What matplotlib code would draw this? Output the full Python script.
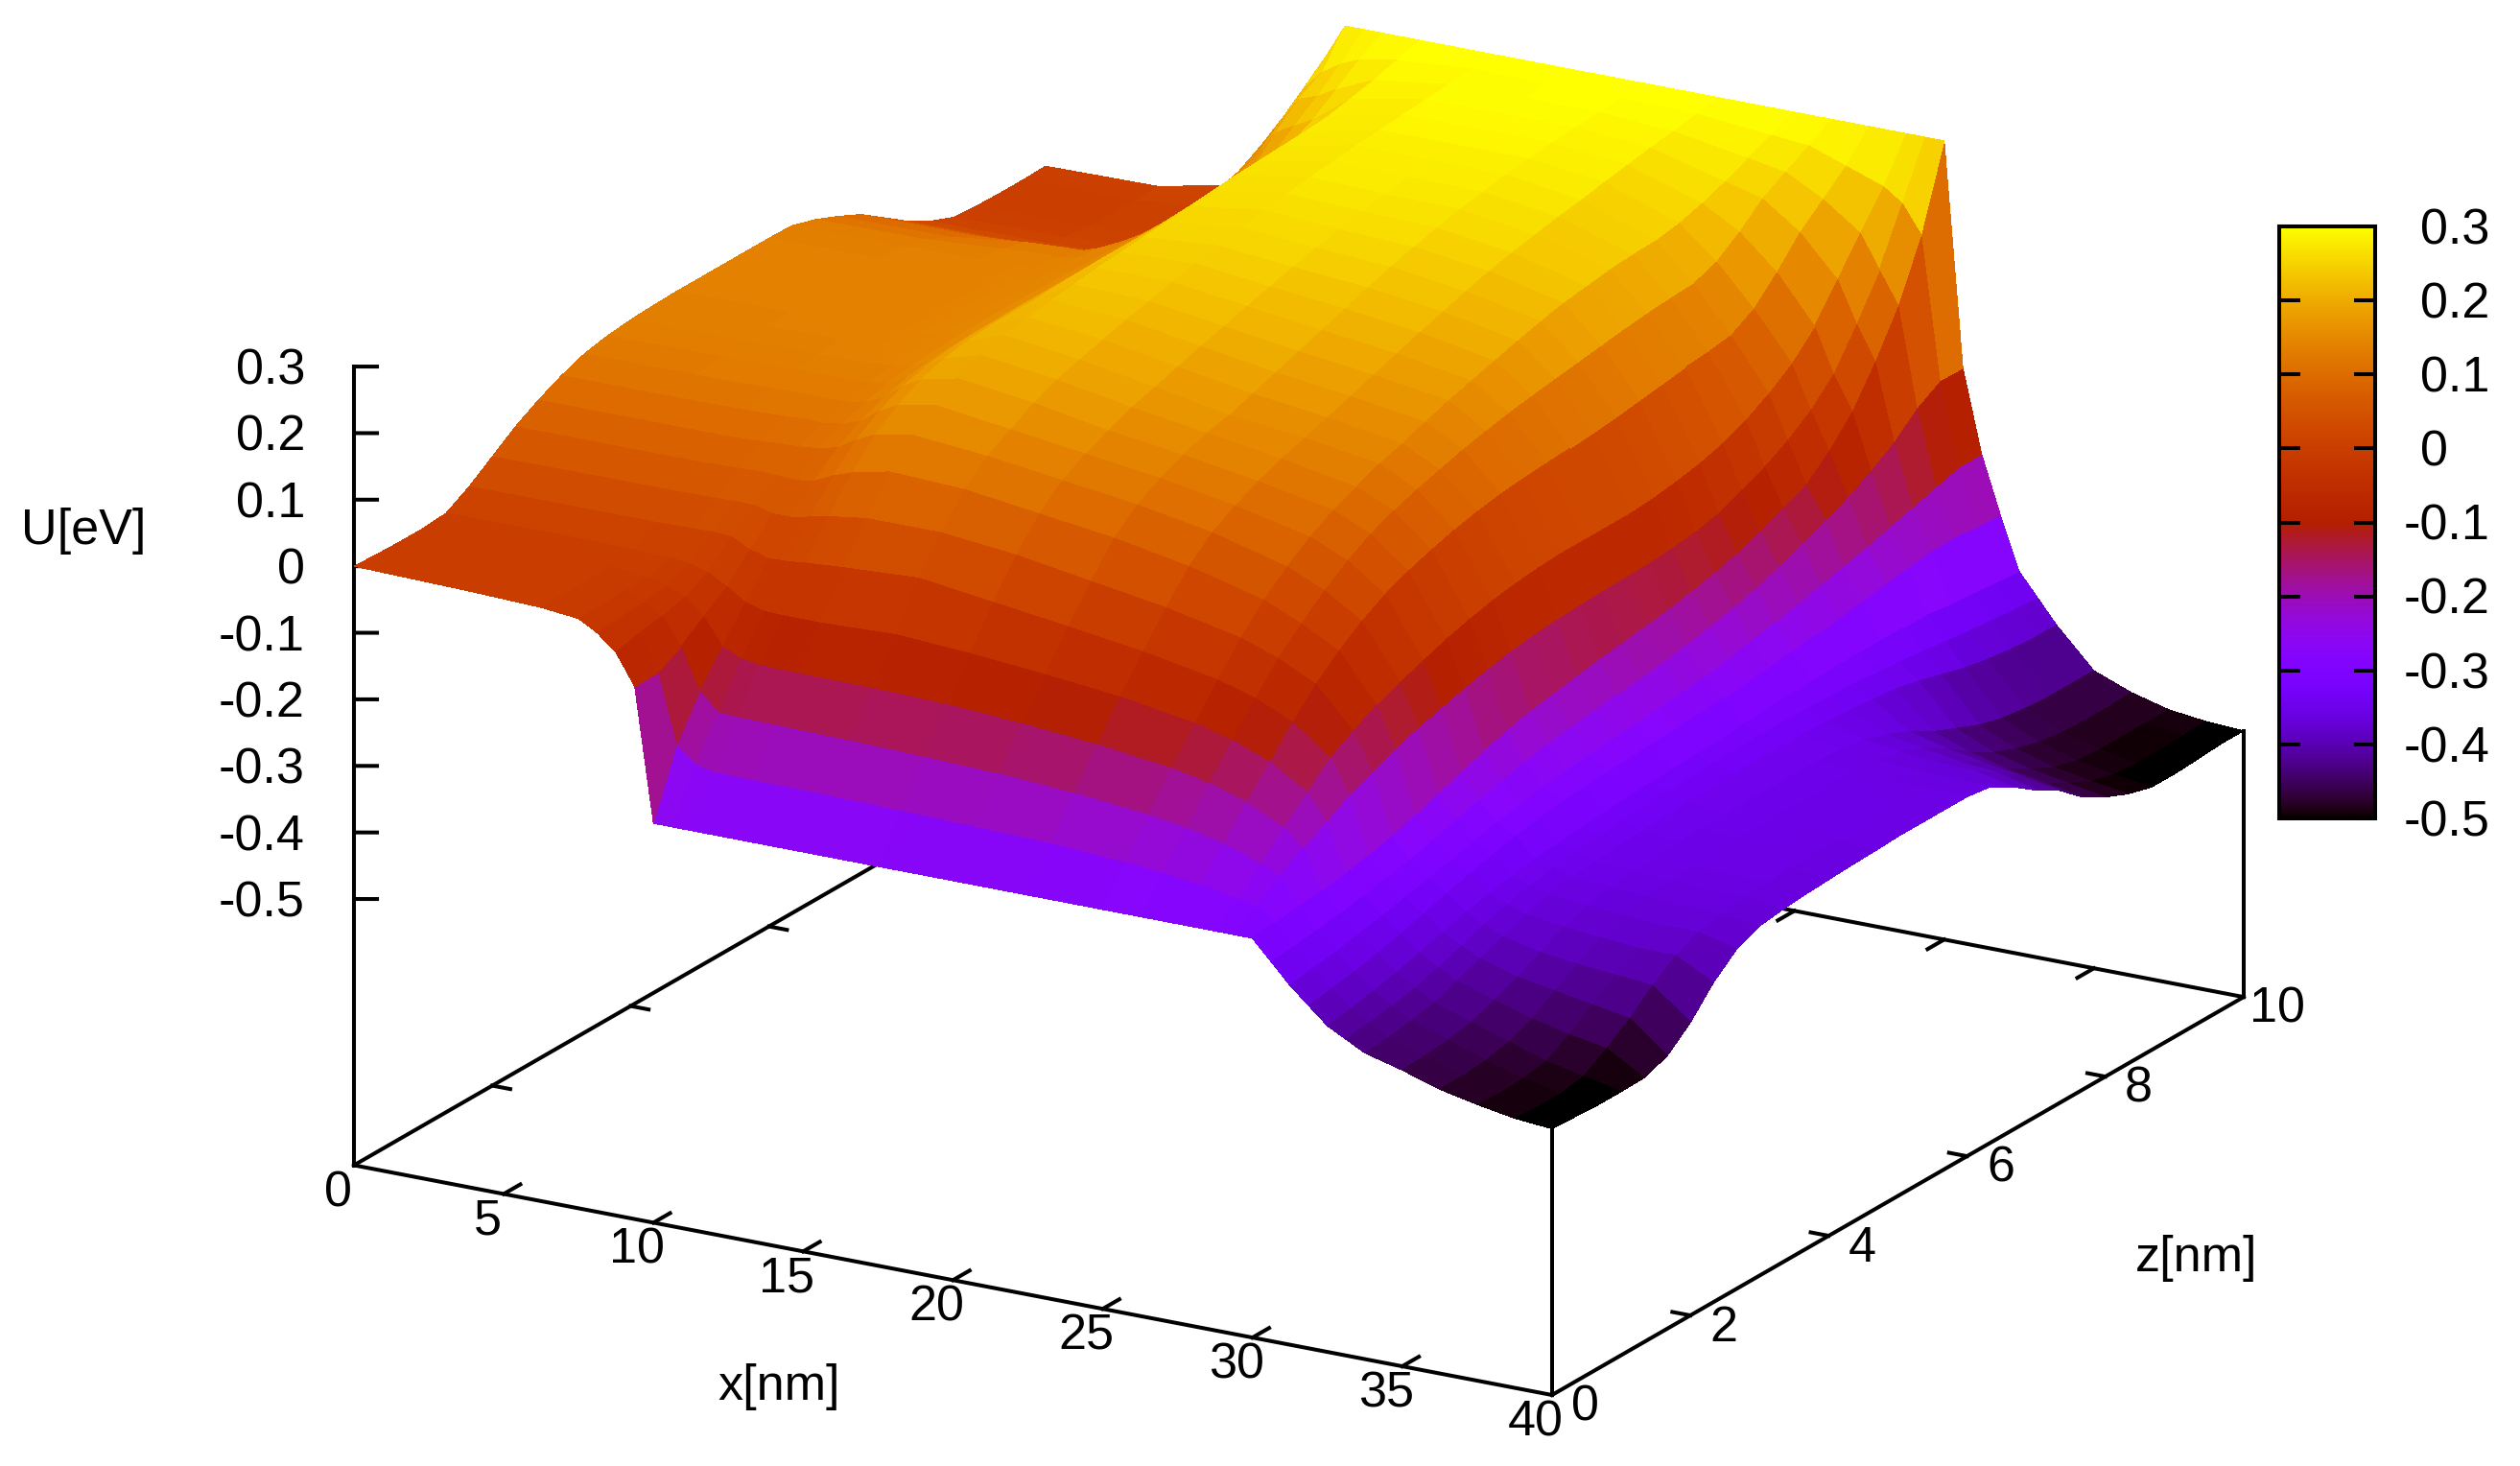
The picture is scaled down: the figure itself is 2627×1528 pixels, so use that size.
import numpy as np
import matplotlib
matplotlib.use("Agg")
import matplotlib.pyplot as plt
from matplotlib.colors import ListedColormap
from matplotlib.transforms import blended_transform_factory
from mpl_toolkits.mplot3d import proj3d

plt.rcParams['font.family'] = ['Liberation Sans', 'DejaVu Sans']

x_nm = [0, 3.75, 6.25, 7.5, 8.125, 8.75, 9.375, 10, 10.625, 11.25, 12.5, 15, 17.5, 20, 22.5, 25, 26.25, 27.5,
        28.75, 29.375, 30, 30.625, 31.25, 31.875, 32.5, 33.125, 33.75, 35, 36.25, 37.5, 38.75, 40]
z_nm = [0, .3333, .6667, 1, 1.3333, 1.6667, 2, 2.3333, 2.6667, 3, 3.3333, 3.6667, 4, 4.3333, 4.6667, 5,
        5.3333, 5.6667, 6, 6.3333, 6.6667, 7, 7.3333, 7.6667, 8, 8.3333, 8.6667, 9, 9.3333, 9.6667, 10]

# U[eV] along z, one list per x station
u_x00 = [0,-.002,-.003,-.003,0,.02,.045,.07,.09,.107,.12,.127,.131,.133,.134,.134,.134,.134,.134,.133,.122,.107,.09,.065,.04,.02,.006,.003,.002,.002,.003]
u_x01 = [-.004,-.004,-.004,-.003,0,.02,.046,.07,.09,.107,.12,.128,.132,.134,.135,.135,.135,.135,.135,.134,.124,.108,.09,.065,.04,.02,.008,.004,.003,.003,.005]
u_x02 = [-.008,-.008,-.008,-.006,-.001,.02,.046,.07,.09,.108,.122,.13,.133,.135,.136,.136,.136,.136,.136,.136,.132,.122,.097,.07,.045,.025,.015,.012,.012,.016,.028]
u_x03 = [-.014,-.014,-.013,-.012,-.003,.021,.047,.072,.092,.11,.123,.13,.134,.136,.138,.138,.138,.138,.138,.138,.136,.125,.1,.075,.055,.04,.04,.045,.055,.07,.095]
u_x04 = [-.03,-.028,-.025,-.02,-.006,.022,.048,.073,.094,.112,.122,.13,.135,.138,.14,.14,.14,.14,.14,.139,.135,.125,.105,.09,.08,.075,.08,.09,.105,.125,.146]
u_x05 = [-.054,-.045,-.04,-.031,-.014,.02,.047,.072,.095,.11,.123,.132,.138,.14,.142,.142,.142,.142,.142,.141,.14,.135,.125,.118,.115,.115,.12,.13,.15,.175,.2]
u_x06 = [-.10,-.099,-.08,-.055,-.03,.006,.04,.07,.098,.115,.128,.137,.142,.145,.147,.148,.148,.148,.147,.146,.145,.143,.141,.14,.14,.14,.145,.16,.19,.22,.25]
u_x07 = [-.30,-.203,-.142,-.095,-.048,-.002,.04,.075,.105,.125,.14,.15,.155,.158,.16,.16,.16,.16,.16,.16,.16,.16,.16,.16,.16,.16,.166,.2,.23,.25,.30]
u_x08 = [-.30,-.227,-.168,-.108,-.056,-.001,.046,.088,.122,.145,.163,.172,.178,.18,.181,.182,.182,.182,.182,.182,.182,.182,.182,.182,.182,.184,.19,.215,.24,.268,.30]
u_x09 = [-.30,-.233,-.17,-.112,-.057,.002,.052,.098,.135,.16,.178,.19,.196,.199,.2,.2,.202,.203,.204,.204,.204,.204,.204,.204,.204,.206,.212,.23,.255,.28,.3]
u_x10 = [-.30,-.234,-.171,-.113,-.057,.006,.06,.11,.145,.17,.19,.205,.215,.222,.228,.232,.237,.24,.243,.246,.25,.253,.256,.258,.26,.262,.265,.272,.28,.29,.3]
u_x11 = [-.30,-.235,-.173,-.114,-.053,.012,.06,.105,.135,.155,.175,.19,.2,.21,.22,.228,.237,.245,.252,.259,.265,.27,.275,.279,.283,.286,.289,.292,.295,.298,.3]
u_x12 = [-.30,-.237,-.176,-.117,-.06,-.003,.048,.09,.12,.14,.155,.17,.18,.191,.202,.212,.222,.232,.241,.25,.258,.265,.271,.277,.282,.286,.29,.293,.296,.298,.3]
u_x13 = [-.30,-.24,-.18,-.124,-.07,-.018,.03,.075,.105,.125,.14,.153,.16,.172,.184,.196,.208,.22,.232,.243,.253,.262,.27,.276,.282,.286,.29,.293,.296,.298,.3]
u_x14 = [-.30,-.243,-.187,-.134,-.082,-.034,.012,.054,.085,.105,.122,.136,.147,.158,.17,.182,.194,.206,.217,.228,.238,.246,.253,.26,.265,.272,.278,.284,.289,.295,.3]
u_x15 = [-.30,-.25,-.198,-.148,-.1,-.055,-.012,.025,.055,.08,.1,.115,.13,.14,.153,.165,.175,.185,.195,.204,.212,.217,.222,.225,.226,.232,.242,.255,.27,.285,.3]
u_x16 = [-.30,-.255,-.207,-.16,-.115,-.072,-.032,0,.03,.055,.075,.09,.102,.112,.122,.13,.137,.143,.148,.153,.158,.163,.167,.17,.172,.185,.21,.24,.26,.28,.3]
u_x17 = [-.30,-.262,-.22,-.178,-.137,-.097,-.06,-.03,-.005,.015,.03,.042,.052,.06,.066,.07,.073,.075,.078,.082,.087,.092,.097,.1,.105,.125,.16,.2,.23,.26,.3]
u_x18 = [-.30,-.272,-.24,-.205,-.172,-.14,-.12,-.1,-.085,-.072,-.06,-.05,-.042,-.036,-.032,-.03,-.03,-.03,-.03,-.027,-.022,-.015,-.005,.01,.03,.055,.09,.14,.19,.24,.3]
u_x19 = [-.30,-.278,-.252,-.23,-.21,-.19,-.175,-.16,-.148,-.138,-.128,-.12,-.113,-.108,-.105,-.103,-.102,-.101,-.1,-.097,-.093,-.085,-.07,-.055,-.035,-.01,.025,.08,.14,.22,.3]
u_x20 = [-.30,-.297,-.293,-.288,-.282,-.275,-.266,-.255,-.243,-.23,-.218,-.207,-.198,-.192,-.186,-.18,-.175,-.17,-.165,-.158,-.15,-.14,-.127,-.112,-.096,-.065,-.026,.029,.093,.179,.30]
u_x21 = [-.33,-.327,-.323,-.318,-.312,-.305,-.297,-.288,-.278,-.268,-.258,-.25,-.243,-.238,-.233,-.228,-.223,-.218,-.212,-.205,-.197,-.187,-.175,-.16,-.145,-.13,-.11,-.087,-.056,-.035,-.036]
u_x22 = [-.36,-.355,-.35,-.343,-.336,-.328,-.32,-.312,-.303,-.295,-.288,-.282,-.277,-.273,-.27,-.267,-.263,-.26,-.256,-.25,-.243,-.235,-.226,-.217,-.208,-.2,-.19,-.18,-.17,-.16,-.16]
u_x23 = [-.385,-.38,-.374,-.366,-.357,-.347,-.337,-.327,-.318,-.31,-.304,-.299,-.296,-.293,-.291,-.289,-.287,-.285,-.283,-.28,-.276,-.272,-.267,-.262,-.256,-.25,-.245,-.24,-.24,-.243,-.246]
u_x24 = [-.41,-.405,-.398,-.39,-.38,-.37,-.36,-.352,-.345,-.34,-.336,-.332,-.33,-.327,-.325,-.323,-.322,-.32,-.317,-.315,-.313,-.312,-.31,-.31,-.31,-.31,-.31,-.315,-.318,-.322,-.325]
u_x25 = [-.425,-.42,-.415,-.408,-.397,-.385,-.372,-.362,-.353,-.346,-.342,-.338,-.335,-.333,-.331,-.33,-.328,-.327,-.326,-.326,-.327,-.328,-.33,-.333,-.337,-.341,-.346,-.35,-.354,-.358,-.36]
u_x26 = [-.44,-.438,-.432,-.425,-.412,-.398,-.385,-.372,-.362,-.356,-.352,-.349,-.347,-.345,-.343,-.342,-.341,-.34,-.34,-.34,-.342,-.345,-.348,-.352,-.36,-.37,-.38,-.387,-.392,-.395,-.395]
u_x27 = [-.455,-.453,-.45,-.443,-.43,-.415,-.398,-.38,-.368,-.36,-.356,-.354,-.352,-.351,-.35,-.35,-.35,-.35,-.351,-.353,-.358,-.37,-.385,-.405,-.42,-.435,-.445,-.45,-.453,-.453,-.453]
u_x28 = [-.473,-.473,-.47,-.462,-.447,-.425,-.405,-.385,-.372,-.364,-.36,-.358,-.356,-.355,-.354,-.354,-.354,-.354,-.355,-.358,-.365,-.38,-.4,-.425,-.445,-.46,-.47,-.475,-.477,-.477,-.475]
u_x29 = [-.485,-.488,-.486,-.48,-.46,-.435,-.41,-.39,-.375,-.367,-.363,-.36,-.358,-.357,-.356,-.356,-.356,-.356,-.358,-.362,-.37,-.39,-.41,-.44,-.46,-.477,-.487,-.49,-.49,-.49,-.49]
u_x30 = [-.495,-.498,-.498,-.492,-.47,-.445,-.415,-.39,-.375,-.368,-.363,-.36,-.358,-.357,-.356,-.356,-.356,-.356,-.358,-.363,-.373,-.395,-.42,-.45,-.47,-.487,-.497,-.5,-.5,-.498,-.497]
u_x31 = [-.5,-.502,-.504,-.504,-.503,-.49,-.46,-.42,-.39,-.375,-.37,-.367,-.365,-.363,-.362,-.36,-.36,-.36,-.36,-.365,-.385,-.41,-.43,-.46,-.48,-.495,-.505,-.505,-.503,-.5,-.5]

U_columns = [u_x00,u_x01,u_x02,u_x03,u_x04,u_x05,u_x06,u_x07,u_x08,u_x09,u_x10,u_x11,u_x12,u_x13,u_x14,u_x15,
             u_x16,u_x17,u_x18,u_x19,u_x20,u_x21,u_x22,u_x23,u_x24,u_x25,u_x26,u_x27,u_x28,u_x29,u_x30,u_x31]

x_ticks = [0, 5, 10, 15, 20, 25, 30, 35, 40]
z_ticks = [0, 2, 4, 6, 8, 10]
u_ticks = [-.5, -.4, -.3, -.2, -.1, 0, .1, .2, .3]
u_tick_labels = ['-0.5', '-0.4', '-0.3', '-0.2', '-0.1', '0', '0.1', '0.2', '0.3']

W, H = 2627, 1528
FS = 37.5
LW = 2.9
BASE = -0.9
TOP = 0.3

t = np.linspace(0, 1, 256)
pm3d = ListedColormap(np.clip(np.c_[np.sqrt(t), t**3, np.sin(2*np.pi*t)], 0, 1))

fig = plt.figure(figsize=(W/100, H/100), dpi=100, facecolor='white')
side = W
ax = fig.add_axes([0, (H-side)/2/H, 1, side/H], projection='3d', computed_zorder=False)
ax.set_proj_type('ortho')
ax.view_init(elev=19.4, azim=-60)
ax.set_xlim(0, 40, view_margin=0)
ax.set_ylim(0, 10, view_margin=0)
ax.set_zlim(BASE, TOP, view_margin=0)
ax.set_axis_off()
ax.patch.set_alpha(0)
ASPECT = (1, 1, 0.612)
ax.set_box_aspect(ASPECT, zoom=1)

def to_px(px, py, pz):
    sx, sy, _ = proj3d.proj_transform(px, py, pz, ax.get_proj())
    return ax.transData.transform((sx, sy))

# Fit the projected box on the target corners (figure pixels, y up)
target_a = np.array([369, H-1214.5])
target_b = np.array([2339, H-1040])
fig.canvas.draw()
a, b = to_px(0, 0, BASE), to_px(40, 10, BASE)
zoom = np.linalg.norm(target_b-target_a)/np.linalg.norm(b-a)
ax.set_box_aspect(ASPECT, zoom=zoom)
fig.canvas.draw()
a = to_px(0, 0, BASE)
d = target_a-a
pos = ax.get_position(original=True)
ax.set_position([pos.x0+d[0]/W, pos.y0+d[1]/H, pos.width, pos.height])
fig.canvas.draw()

X, Z = np.meshgrid(x_nm, z_nm)
Uv = np.array(U_columns).T
ax.plot_surface(X, Z, Uv, cmap=pm3d, vmin=-.5, vmax=.3, rstride=1, cstride=1, shade=False,
                linewidth=0, antialiased=False, zorder=2)

def seg(xs, zs, us):
    ax.plot(xs, zs, us, color='black', lw=LW, zorder=1, solid_capstyle='projecting', clip_on=False)

def label(p, dx, dy, s, ha='center'):
    fig.text((p[0]+dx)/W, (p[1]+dy)/H, s, fontsize=FS, ha=ha, va='center')

seg([0, 40], [0, 0], [BASE, BASE])
seg([40, 40], [0, 10], [BASE, BASE])
seg([0, 0], [0, 10], [BASE, BASE])
seg([0, 40], [10, 10], [BASE, BASE])
seg([0, 0], [0, 0], [BASE, TOP])
seg([40, 40], [0, 0], [BASE, -.5])
seg([40, 40], [10, 10], [BASE, -.5])

for v in x_ticks[1:-1]:
    seg([v, v], [0, .24], [BASE, BASE])
    seg([v, v], [10, 9.76], [BASE, BASE])
for v in z_ticks[1:-1]:
    seg([0, .6], [v, v], [BASE, BASE])
    seg([40, 39.4], [v, v], [BASE, BASE])
for v, s in zip(u_ticks, u_tick_labels):
    seg([0, .77], [0, 0], [v, v+.0066])
    label(to_px(0, 0, v), -51, -5, s, ha='right')
for v in x_ticks:
    label(to_px(v, 0, BASE), -17, -29, str(v))
for v in z_ticks:
    label(to_px(40, v, BASE), 35, -13, str(v))

label((812, H-1443), 0, -3, 'x[nm]')
label((2290, H-1308), 0, -3, 'z[nm]')
label((87, H-551), 0, -3, 'U[eV]')

# Colour box
cb = fig.add_axes([2376/W, 1-853/H, 100/W, 617/H])
cb.imshow(np.linspace(.3, -.5, 512)[:, None], cmap=pm3d, vmin=-.5, vmax=.3, aspect='auto',
          extent=[0, 1, -.5, .3], interpolation='bilinear')
cb.set_xticks([])
cb.set_ylim(-.5, .3)
cb.set_yticks(u_ticks)
cb.set_yticklabels([])
cb.tick_params(axis='y', direction='in', length=16, width=LW, left=True, right=True, color='black')
for sp in cb.spines.values():
    sp.set_linewidth(LW)
blend = blended_transform_factory(fig.transFigure, cb.transData)
for v, s in zip(u_ticks, u_tick_labels):
    cb.annotate(s, xy=(2523/W if v >= 0 else 2506/W, v), xycoords=blend, xytext=(0, -3.5),
                textcoords='offset points', fontsize=FS, ha='left', va='center', annotation_clip=False)

fig.savefig('out.png', dpi=100, facecolor='white')
